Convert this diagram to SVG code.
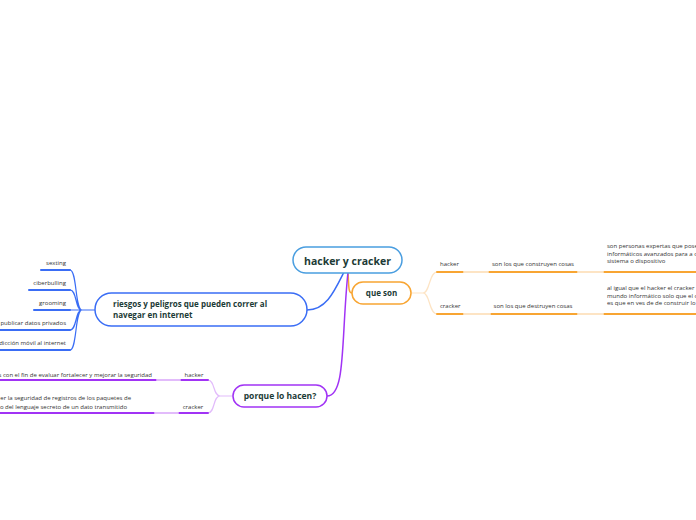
<svg xmlns="http://www.w3.org/2000/svg" width="696" height="520" viewBox="0 0 696 520">
<style>
.t{font-family:"Open Sans","Liberation Sans",sans-serif;font-size:6px;fill:#333}
.h{font-family:"Open Sans","Liberation Sans",sans-serif;font-weight:bold;fill:#1c3b36}
.c{fill:none;stroke-linecap:round}
.o{stroke:#f8a532}
.ol{stroke:#fde4c4}
.b{stroke:#3a6df5}
.p{stroke:#a133f5}
.pl{stroke:#e2bbfb}
</style>
<rect width="696" height="520" fill="#fff"/>
<g id="connectors">
  <path class="c b" stroke-width="1.5" d="M344,272 C334,292 326,310 307,310"/>
  <path class="c o" stroke-width="1.5" d="M348,272 C349,285 348,293 352,293"/>
  <path class="c p" stroke-width="1.5" d="M348,272 C341,340 346,396 327,396"/>
  <path class="c ol" stroke-width="1.2" d="M411,293 L423,293 C430,293 429,272 437,272 M423,293 C430,293 429,314 437,314"/>
  <path class="c b" stroke-width="1.2" d="M95,310 L82,310 C75,310 77,270 70,270 M82,310 C75,310 77,290 70,290 M82,310 L70,310 M82,310 C75,310 77,330 70,330 M82,310 C75,310 77,350 70,350"/>
  <path class="c pl" stroke-width="1.2" d="M233,396 L220,396 C213,396 215,380 208,380 M220,396 C213,396 215,413 208,413"/>
</g>
<g id="central">
  <rect x="293" y="247" width="109" height="26" rx="13" fill="#fff" stroke="#4a9ee0" stroke-width="1.5"/>
  <text class="h" x="347.5" y="264.5" font-size="10.5" text-anchor="middle">hacker y cracker</text>
</g>
<g id="queson">
  <rect x="352" y="282" width="59" height="22" rx="11" fill="#fff" stroke="#f8a532" stroke-width="1.5"/>
  <text class="h" x="381.5" y="296" font-size="8" text-anchor="middle">que son</text>
</g>
<g id="q-hacker">
  <path class="c o" stroke-width="2" d="M437,272 H464 M488,272 H578 M603,272 H696"/>
  <path class="c ol" stroke-width="2" d="M464,272 H488 M578,272 H603"/>
  <text class="t" x="440" y="266">hacker</text>
  <text class="t" x="533" y="266" text-anchor="middle">son los que construyen cosas</text>
  <text class="t" x="607" y="248">son personas expertas que pose</text>
  <text class="t" x="607" y="255.5">informáticos avanzados para a c</text>
  <text class="t" x="607" y="263">sistema o dispositivo</text>
</g>
<g id="q-cracker">
  <path class="c o" stroke-width="2" d="M437,314 H464 M490,314 H578 M603,314 H696"/>
  <path class="c ol" stroke-width="2" d="M464,314 H490 M578,314 H603"/>
  <text class="t" x="440" y="308">cracker</text>
  <text class="t" x="533" y="308" text-anchor="middle">son los que destruyen cosas</text>
  <text class="t" x="607" y="290">al igual que el hacker el cracker</text>
  <text class="t" x="607" y="297.5">mundo informático solo que el c</text>
  <text class="t" x="607" y="305">es que en ves de de construir lo</text>
</g>
<g id="riesgos">
  <rect x="95" y="293" width="212" height="33" rx="16.5" fill="#fff" stroke="#3a6df5" stroke-width="1.5"/>
  <text class="h" x="113" y="306.5" font-size="8">riesgos y peligros que pueden correr al</text>
  <text class="h" x="113" y="317.5" font-size="8">navegar en internet</text>
</g>
<g id="r-items">
  <path class="c b" stroke-width="2" d="M41,270 H70 M29,290 H70 M34,310 H70 M0,330 H70 M0,350 H70"/>
  <text class="t" x="66" y="265" text-anchor="end">sexting</text>
  <text class="t" x="66" y="285" text-anchor="end">ciberbulling</text>
  <text class="t" x="66" y="305" text-anchor="end">grooming</text>
  <text class="t" x="66" y="325" text-anchor="end">publicar datos privados</text>
  <text class="t" x="66" y="345" text-anchor="end">dicción móvil al internet</text>
</g>
<g id="porque">
  <rect x="233" y="385" width="94" height="22" rx="11" fill="#fff" stroke="#a133f5" stroke-width="1.5"/>
  <text class="h" x="280" y="399" font-size="8.5" text-anchor="middle">porque lo hacen?</text>
</g>
<g id="p-hacker">
  <path class="c p" stroke-width="2" d="M0,380 H157 M180,380 H208"/>
  <path class="c pl" stroke-width="2" d="M157,380 H180"/>
  <text class="t" x="194" y="376.5" text-anchor="middle">hacker</text>
  <text class="t" x="152" y="376.5" text-anchor="end">s con el fin de evaluar fortalecer y mejorar la seguridad</text>
</g>
<g id="p-cracker">
  <path class="c p" stroke-width="2" d="M0,413 H155 M178,413 H208"/>
  <path class="c pl" stroke-width="2" d="M155,413 H178"/>
  <text class="t" x="193" y="408.5" text-anchor="middle">cracker</text>
  <text class="t" x="131" y="400" text-anchor="end">er la seguridad de registros de los paquetes de</text>
  <text class="t" x="127" y="408.5" text-anchor="end">o del lenguaje secreto de un dato transmitido</text>
</g>
</svg>
